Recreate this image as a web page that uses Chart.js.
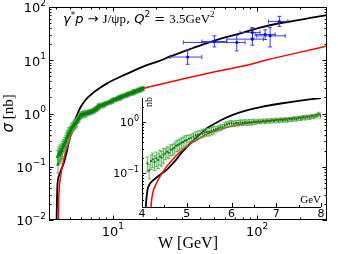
<!DOCTYPE html>
<html>
<head>
<meta charset="UTF-8">
<title>J/psi electroproduction</title>
<script src="https://cdn.jsdelivr.net/npm/chart.js"></script>
<style>
  body { margin: 0; background: #fff; }
  #wrap { position: relative; width: 338px; height: 254px; }
  #mainChart { position: absolute; left: 0; top: 0; }
  #insetChart { position: absolute; left: 100px; top: 85px; }
</style>
</head>
<body>
<div id="wrap">
  <canvas id="mainChart" width="338" height="254"></canvas>
  <canvas id="insetChart" width="230" height="135"></canvas>
</div>
<script>
// model curves (W in GeV, sigma in nb)
const blackW   = [4.05, 4.07, 4.09, 4.12, 4.16, 4.22, 4.30, 4.42, 4.55, 4.68, 4.80, 4.90, 5.00, 5.10, 5.22, 5.35, 5.45, 5.60, 5.75, 6.00, 6.30, 6.70, 7.10, 7.50, 8.00, 9, 10, 12, 14, 17, 21, 25, 30, 36, 45, 60, 80, 105, 140, 180, 240, 310];
const blackSig = [0.004, 0.012, 0.025, 0.045, 0.058, 0.068, 0.078, 0.095, 0.115, 0.15, 0.2, 0.26, 0.32, 0.4, 0.5, 0.63, 0.75, 0.9, 1.07, 1.35, 1.65, 2.0, 2.3, 2.6, 2.95, 3.6, 4.2, 5.3, 6.4, 8.0, 9.7, 11.8, 14.2, 17, 21, 26.8, 33, 41, 49, 55, 63, 71];

const redW   = [4.18, 4.20, 4.24, 4.29, 4.35, 4.40, 4.48, 4.55, 4.65, 4.78, 4.90, 5.00, 5.10, 5.22, 5.40, 5.60, 5.80, 6.00, 6.34, 6.71, 7.10, 7.50, 8.00, 9, 10, 12, 14, 16.2, 21, 30, 50, 80, 120, 200, 310];
const redSig = [0.006, 0.02, 0.04, 0.054, 0.07, 0.085, 0.108, 0.133, 0.17, 0.225, 0.28, 0.33, 0.385, 0.44, 0.55, 0.65, 0.74, 0.82, 0.94, 1.02, 1.13, 1.24, 1.41, 1.62, 1.82, 2.2, 2.57, 2.95, 3.5, 4.4, 6.0, 7.8, 10.3, 14.2, 18.6];

// pseudo-data (green)
const greenW = [4.12, 4.16, 4.20, 4.24, 4.28, 4.32, 4.36, 4.40, 4.44, 4.48, 4.52, 4.56, 4.60, 4.64, 4.68, 4.72, 4.76, 4.80, 4.84, 4.88, 4.92, 4.96,
  5.00, 5.05, 5.10, 5.15, 5.20, 5.25, 5.30, 5.35, 5.40, 5.45, 5.50, 5.55, 5.60, 5.65, 5.70, 5.75, 5.80, 5.85, 5.90, 5.95,
  6.00, 6.05, 6.10, 6.15, 6.20, 6.25, 6.30, 6.35, 6.40, 6.45, 6.50, 6.55, 6.60, 6.65, 6.70, 6.75, 6.80, 6.85, 6.90, 6.95,
  7.00, 7.05, 7.10, 7.15, 7.20, 7.25, 7.30, 7.35, 7.40, 7.45, 7.50, 7.55, 7.60, 7.65, 7.70, 7.75, 7.80, 7.85, 7.90, 7.95, 8.00,
  8.15, 8.3, 8.45, 8.6, 8.75, 8.9, 9.05, 9.2, 9.35, 9.5, 9.65, 9.8, 9.95, 10.1, 10.25, 10.4, 10.55, 10.7, 10.85, 11.0,
  11.15, 11.3, 11.45, 11.6, 11.75, 11.9, 12.05, 12.2, 12.35, 12.5, 12.65, 12.8, 12.95, 13.1, 13.25, 13.4, 13.55, 13.7,
  13.85, 14.0, 14.15, 14.3, 14.45, 14.6, 14.75, 14.9, 15.05, 15.2, 15.35, 15.5, 15.65, 15.8, 15.95, 16.1, 16.25];
const greenSig = [0.155, 0.112, 0.17, 0.185, 0.165, 0.195, 0.18, 0.21, 0.2, 0.228, 0.24, 0.262, 0.25, 0.285, 0.29, 0.31, 0.34, 0.35, 0.37, 0.39, 0.405, 0.43,
  0.44, 0.47, 0.49, 0.52, 0.55, 0.565, 0.58, 0.6, 0.62, 0.64, 0.64, 0.67, 0.70, 0.72, 0.75, 0.78, 0.80, 0.86, 0.9, 0.93,
  0.95, 0.92, 0.96, 0.95, 0.98, 0.97, 0.99, 0.97, 1.0, 0.98, 1.02, 1.0, 1.03, 1.01, 1.05, 1.02, 1.06, 1.04, 1.07, 1.05,
  1.09, 1.06, 1.10, 1.08, 1.11, 1.09, 1.13, 1.12, 1.16, 1.14, 1.19, 1.17, 1.22, 1.20, 1.25, 1.23, 1.29, 1.27, 1.33, 1.42, 1.30,
  1.36, 1.45, 1.38, 1.50, 1.43, 1.56, 1.52, 1.58, 1.60, 1.66, 1.63, 1.76, 1.68, 1.83, 1.78, 1.85, 1.84, 1.92, 1.88, 2.02,
  1.92, 2.07, 1.98, 2.13, 2.08, 2.14, 2.15, 2.22, 2.19, 2.31, 2.22, 2.36, 2.30, 2.37, 2.36, 2.43, 2.41, 2.54,
  2.42, 2.60, 2.50, 2.64, 2.58, 2.66, 2.64, 2.72, 2.70, 2.82, 2.71, 2.86, 2.78, 2.92, 2.87, 2.94, 2.95];
// relative error (%) of the green points, by W band (upper edge)
const greenErrW   = [4.5, 5.0, 5.6, 6.5, 8.0, 17];
const greenErrPct = [32, 24, 17, 12, 9, 8];

// measured points (blue)
const blueW      = [33, 50.6, 72.3, 92.9, 92.9, 113.8, 123.3, 143];
const blueSig    = [11.5, 22.5, 21.6, 24.9, 33.3, 30.5, 28.7, 53.7];
const blueWLo    = [24.9, 41.4, 30.8, 61.7, 76.2, 97, 99.5, 120];
const blueWHi    = [41.4, 61.7, 82.6, 110.7, 105, 133.6, 156.8, 163.6];
const blueSigLo  = [8.4, 17.8, 15.0, 19.2, 26, 24.5, 17.8, 43.3];
const blueSigHi  = [15.6, 28.7, 29.6, 39.6, 41, 37.3, 41.4, 66.8];

// axes
const mainXMajor = [10, 100];
const mainYMajor = [0.01, 0.1, 1, 10, 100];
const insetXMajor = [4, 5, 6, 7, 8];
const insetYMajor = [0.1, 1];

const pts = (xs, ys) => xs.map((x, i) => ({ x: x, y: ys[i] }));
const errFor = w => {
  for (let i = 0; i < greenErrW.length; i++) if (w <= greenErrW[i]) return greenErrPct[i] / 100;
  return greenErrPct[greenErrPct.length - 1] / 100;
};
const greenLo = greenSig.map((s, i) => s * (1 - errFor(greenW[i])));
const greenHi = greenSig.map((s, i) => s * (1 + errFor(greenW[i])));

function minorLog(min, max) {
  const out = [];
  for (let e = Math.floor(Math.log10(min)); e <= Math.ceil(Math.log10(max)); e++) {
    for (let k = 2; k <= 9; k++) {
      const v = k * Math.pow(10, e);
      if (v >= min && v <= max) out.push(v);
    }
  }
  return out;
}

const SANS = 'DejaVu Sans';
const SERIF = 'Liberation Serif';

function drawRuns(ctx, x, y, runs) {
  runs.forEach(r => {
    ctx.font = r.font;
    ctx.fillText(r.t, x, y + (r.dy || 0));
    x += ctx.measureText(r.t).width;
  });
  return x;
}
function runsWidth(ctx, runs) {
  let w = 0;
  runs.forEach(r => { ctx.font = r.font; w += ctx.measureText(r.t).width; });
  return w;
}
function powLabel(exp, size) {
  return [
    { t: '10', font: size + 'px ' + SANS },
    { t: exp, font: Math.round(size * 0.7) + 'px ' + SANS, dy: -size * 0.52 }
  ];
}
const expText = v => String(Math.round(Math.log10(v))).replace('-', '\u2212');

// error bars, drawn right before the dataset they belong to
const errorBars = {
  id: 'errorBars',
  beforeDatasetDraw(chart, args) {
    const ds = chart.data.datasets[args.index];
    if (!ds.err) return;
    const ctx = chart.ctx, a = chart.chartArea, x = chart.scales.x, y = chart.scales.y;
    const e = ds.err;
    ctx.save();
    ctx.beginPath();
    ctx.rect(a.left, a.top, a.width, a.height);
    ctx.clip();
    ctx.strokeStyle = e.color;
    ctx.lineWidth = e.width;
    ds.data.forEach((p, i) => {
      const px = x.getPixelForValue(p.x), py = y.getPixelForValue(p.y);
      const y1 = y.getPixelForValue(e.lo[i]), y2 = y.getPixelForValue(e.hi[i]);
      ctx.beginPath();
      ctx.moveTo(px, y1); ctx.lineTo(px, y2);
      ctx.moveTo(px - e.cap, y1); ctx.lineTo(px + e.cap, y1);
      ctx.moveTo(px - e.cap, y2); ctx.lineTo(px + e.cap, y2);
      if (e.xlo) {
        const x1 = x.getPixelForValue(e.xlo[i]), x2 = x.getPixelForValue(e.xhi[i]);
        ctx.moveTo(x1, py); ctx.lineTo(x2, py);
        ctx.moveTo(x1, py - e.cap); ctx.lineTo(x1, py + e.cap);
        ctx.moveTo(x2, py - e.cap); ctx.lineTo(x2, py + e.cap);
      }
      ctx.stroke();
    });
    ctx.restore();
  }
};

const mainDeco = {
  id: 'mainDeco',
  afterDraw(chart) {
    const ctx = chart.ctx, a = chart.chartArea, x = chart.scales.x, y = chart.scales.y;
    ctx.save();
    ctx.strokeStyle = '#000';
    ctx.lineWidth = 1;
    ctx.strokeRect(a.left + 0.5, a.top + 0.5, a.width - 1, a.height - 1);
    // ticks, inward
    ctx.beginPath();
    mainXMajor.forEach(v => { const p = Math.round(x.getPixelForValue(v)) + 0.5; ctx.moveTo(p, a.bottom); ctx.lineTo(p, a.bottom - 4.5); ctx.moveTo(p, a.top); ctx.lineTo(p, a.top + 4.5); });
    minorLog(x.min, x.max).forEach(v => { const p = Math.round(x.getPixelForValue(v)) + 0.5; ctx.moveTo(p, a.bottom); ctx.lineTo(p, a.bottom - 2.5); ctx.moveTo(p, a.top); ctx.lineTo(p, a.top + 2.5); });
    mainYMajor.forEach(v => { const p = Math.round(y.getPixelForValue(v)) + 0.5; ctx.moveTo(a.left, p); ctx.lineTo(a.left + 4.5, p); ctx.moveTo(a.right, p); ctx.lineTo(a.right - 4.5, p); });
    minorLog(y.min, y.max).forEach(v => { const p = Math.round(y.getPixelForValue(v)) + 0.5; ctx.moveTo(a.left, p); ctx.lineTo(a.left + 2.5, p); ctx.moveTo(a.right, p); ctx.lineTo(a.right - 2.5, p); });
    ctx.stroke();

    ctx.fillStyle = '#000';
    ctx.textBaseline = 'alphabetic';
    ctx.textAlign = 'left';
    mainYMajor.forEach(v => {
      const runs = powLabel(expText(v), 13);
      const w = runsWidth(ctx, runs);
      drawRuns(ctx, a.left - 3 - w, y.getPixelForValue(v) + 5.3, runs);
    });
    mainXMajor.forEach(v => {
      const runs = powLabel(expText(v), 13);
      const w = runsWidth(ctx, runs);
      drawRuns(ctx, x.getPixelForValue(v) - w / 2, a.bottom + 16, runs);
    });

    // axis titles
    ctx.font = '16px ' + SERIF;
    ctx.textAlign = 'center';
    ctx.fillText('W [GeV]', (a.left + a.right) / 2, 248);
    ctx.textAlign = 'left';
    const yRuns = [
      { t: '\u03c3', font: 'italic 15px ' + SANS },
      { t: ' [nb]', font: '15px ' + SERIF }
    ];
    ctx.save();
    ctx.translate(13, (a.top + a.bottom) / 2);
    ctx.rotate(-Math.PI / 2);
    drawRuns(ctx, -runsWidth(ctx, yRuns) / 2, 0, yRuns);
    ctx.restore();

    // process label
    drawRuns(ctx, 63, 23, [
      { t: '\u03b3', font: 'italic 13px ' + SANS },
      { t: '*', font: '9px ' + SANS, dy: -5 },
      { t: 'p', font: 'italic 13px ' + SANS },
      { t: ' \u2192 ', font: '13px ' + SANS },
      { t: 'J/\u03c8p', font: '13px ' + SERIF },
      { t: ', ', font: '13px ' + SANS },
      { t: 'Q', font: 'italic 13px ' + SANS },
      { t: '2', font: '9px ' + SANS, dy: -6 },
      { t: ' = ', font: '13px ' + SANS },
      { t: '3.5GeV', font: '13px ' + SERIF },
      { t: '2', font: '9px ' + SERIF, dy: -6 }
    ]);
    ctx.restore();
  }
};

const insetDeco = {
  id: 'insetDeco',
  afterDraw(chart) {
    const ctx = chart.ctx, a = chart.chartArea, x = chart.scales.x, y = chart.scales.y;
    ctx.save();
    ctx.strokeStyle = '#000';
    ctx.lineWidth = 1;
    ctx.beginPath();
    ctx.moveTo(a.left + 0.5, a.top); ctx.lineTo(a.left + 0.5, a.bottom + 0.5); ctx.lineTo(a.right, a.bottom + 0.5);
    insetXMajor.forEach(v => { const p = Math.round(x.getPixelForValue(v)) + 0.5; ctx.moveTo(p, a.bottom); ctx.lineTo(p, a.bottom - 4); });
    [4.5, 5.5, 6.5, 7.5].forEach(v => { const p = Math.round(x.getPixelForValue(v)) + 0.5; ctx.moveTo(p, a.bottom); ctx.lineTo(p, a.bottom - 2); });
    insetYMajor.forEach(v => { const p = Math.round(y.getPixelForValue(v)) + 0.5; ctx.moveTo(a.left, p); ctx.lineTo(a.left + 4, p); });
    minorLog(y.min, y.max).forEach(v => { const p = Math.round(y.getPixelForValue(v)) + 0.5; ctx.moveTo(a.left, p); ctx.lineTo(a.left + 2, p); });
    ctx.stroke();

    ctx.fillStyle = '#000';
    ctx.textBaseline = 'alphabetic';
    ctx.textAlign = 'center';
    ctx.font = '11px ' + SANS;
    insetXMajor.forEach(v => ctx.fillText(String(v), x.getPixelForValue(v), a.bottom + 10));
    ctx.textAlign = 'left';
    insetYMajor.forEach(v => {
      const runs = powLabel(expText(v), 11);
      const w = runsWidth(ctx, runs);
      drawRuns(ctx, a.left - 3 - w, y.getPixelForValue(v) + 4.5, runs);
    });
    ctx.font = '11px ' + SERIF;
    ctx.textAlign = 'right';
    ctx.fillText('GeV', a.right, a.bottom - 4);
    ctx.save();
    ctx.translate(a.left + 10, a.top + 4);
    ctx.rotate(-Math.PI / 2);
    ctx.font = '10px ' + SERIF;
    ctx.textAlign = 'center';
    ctx.fillText('nb', 0, 0);
    ctx.restore();
    ctx.restore();
  }
};

function curveSet(xs, ys, color, width) {
  return { data: pts(xs, ys), showLine: true, borderColor: color, borderWidth: width, pointRadius: 0, cubicInterpolationMode: 'monotone', fill: false };
}
function greenSet(maxW, radius) {
  const keep = greenW.map((w, i) => i).filter(i => greenW[i] <= maxW);
  return {
    data: keep.map(i => ({ x: greenW[i], y: greenSig[i] })),
    showLine: false, pointStyle: 'rect', pointRadius: radius, backgroundColor: '#0b7d0b', borderColor: '#0b7d0b', borderWidth: 0,
    err: { lo: keep.map(i => greenLo[i]), hi: keep.map(i => greenHi[i]), color: 'rgba(70,170,70,0.85)', width: 1, cap: 1.8 }
  };
}
const baseOpts = {
  responsive: false, animation: false, events: [],
  plugins: { legend: { display: false }, tooltip: { enabled: false } }
};

// datasets are listed top-most first
new Chart(document.getElementById('mainChart'), {
  type: 'scatter',
  data: {
    datasets: [
      {
        data: pts(blueW, blueSig), showLine: false, pointRadius: 1.5, backgroundColor: '#0000ff', borderColor: '#0000ff', borderWidth: 0,
        err: { lo: blueSigLo, hi: blueSigHi, xlo: blueWLo, xhi: blueWHi, color: 'rgba(40,40,255,0.9)', width: 1, cap: 2 }
      },
      greenSet(100, 1.7),
      curveSet(redW, redSig, '#ff0000', 1.5),
      curveSet(blackW, blackSig, '#000000', 1.8)
    ]
  },
  options: Object.assign({}, baseOpts, {
    layout: { padding: { left: 0, right: 11, top: 7, bottom: 0 } },
    scales: {
      x: { type: 'logarithmic', min: 3.6, max: 306, grid: { display: false }, border: { display: false }, ticks: { display: false }, afterFit: s => { s.height = 34; } },
      y: { type: 'logarithmic', min: 0.01, max: 100, grid: { display: false }, border: { display: false }, ticks: { display: false }, afterFit: s => { s.width = 49; } }
    }
  }),
  plugins: [errorBars, mainDeco]
});

new Chart(document.getElementById('insetChart'), {
  type: 'scatter',
  data: {
    datasets: [
      greenSet(8.05, 1.4),
      curveSet(redW, redSig, '#ff0000', 1.5),
      curveSet(blackW, blackSig, '#000000', 1.8)
    ]
  },
  options: Object.assign({}, baseOpts, {
    layout: { padding: { left: 0, right: 9, top: 13, bottom: 0 } },
    scales: {
      x: { type: 'linear', min: 4, max: 8, grid: { display: false }, border: { display: false }, ticks: { display: false }, afterFit: s => { s.height = 13; } },
      y: { type: 'logarithmic', min: 0.0215, max: 2.95, grid: { display: false }, border: { display: false }, ticks: { display: false }, afterFit: s => { s.width = 42; } }
    }
  }),
  plugins: [errorBars, insetDeco]
});
</script>
</body>
</html>
